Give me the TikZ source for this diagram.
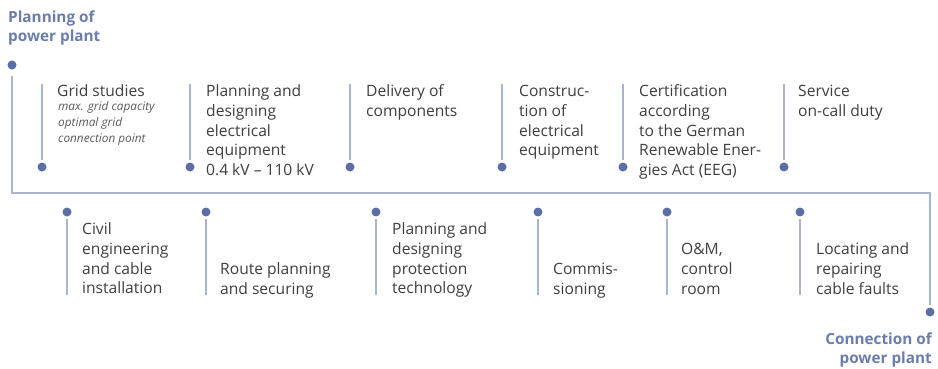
\documentclass[tikz,border=0pt]{standalone}
\usepackage{fontspec}
\setmainfont{Open Sans}
\definecolor{lineblue}{HTML}{A9B4CE}
\definecolor{dotblue}{HTML}{5B6FA6}
\definecolor{titleblue}{HTML}{6A7DAE}
\definecolor{textgray}{HTML}{3E3E3E}
\definecolor{subgray}{HTML}{5A5A5A}
\begin{document}
\begin{tikzpicture}[x=1pt,y=-1pt,
  conn/.style={draw=lineblue, line width=1.6pt},
  dot/.style={circle, fill=dotblue, inner sep=0pt, minimum size=9pt, outer sep=2.5pt},
  lbl/.style={anchor=north west, inner sep=0pt, align=left, text=textgray, font=\fontsize{15.6}{19.8}\selectfont},
  sublbl/.style={anchor=north west, inner sep=0pt, align=left, text=subgray, font=\fontsize{11.8}{16}\selectfont\itshape},
  ttl/.style={inner sep=0pt, text=titleblue, font=\fontsize{15.3}{19}\selectfont\bfseries}]
\useasboundingbox (0,0) rectangle (938,369);

% main timeline
\node[ttl, anchor=north west, align=left] (title) at (8,9.5) {\strut Planning of\\power plant};
\node[ttl, anchor=north east, align=right] (endtitle) at (932,331) {\strut Connection of\\power plant};
\node[dot] (start) at (12,65) {};
\node[dot] (end) at (930,312) {};
\coordinate (c1) at (12,193);
\coordinate (c2) at (930,193);
\draw[conn, shorten <=4pt] (start) -- (c1) -- (c2) -- (end);

% top items
\foreach \n/\x in {t1/42, t2/190, t3/350, t4/502, t5/623, t6/784}{
  \node[dot] (\n d) at (\x,167) {};
  \coordinate (\n a) at (\x,84);
  \draw[conn] (\n a) -- (\n d);
}
\node[lbl] (t1) at (57,82.5) {\strut Grid studies};
\node[sublbl] (t1s) at (58,99) {\strut max. grid capacity\\optimal grid\\connection point};
\node[lbl] (t2) at (206,82.5) {\strut Planning and\\designing\\electrical\\equipment\\0.4 kV – 110 kV};
\node[lbl] (t3) at (366,82.5) {\strut Delivery of\\components};
\node[lbl] (t4) at (519,82.5) {\strut Construc-\\tion of\\electrical\\equipment};
\node[lbl] (t5) at (639,82.5) {\strut Certification\\according\\to the German\\Renewable Ener-\\gies Act (EEG)};
\node[lbl] (t6) at (798,82.5) {\strut Service\\on-call duty};

% bottom items
\foreach \n/\x in {b1/67, b2/206, b3/376, b4/538, b5/667, b6/800}{
  \node[dot] (\n d) at (\x,212) {};
  \coordinate (\n a) at (\x,295);
  \draw[conn] (\n d) -- (\n a);
}
\node[lbl] (b1) at (82,220.5) {\strut Civil\\engineering\\and cable\\installation};
\node[lbl] (b2) at (220,260.5) {\strut Route planning\\and securing};
\node[lbl] (b3) at (392,220.5) {\strut Planning and\\designing\\protection\\technology};
\node[lbl] (b4) at (553,260.5) {\strut Commis-\\sioning};
\node[lbl] (b5) at (681,240.5) {\strut O\&M,\\control\\room};
\node[lbl] (b6) at (816,240.5) {\strut Locating and\\repairing\\cable faults};
\end{tikzpicture}
\end{document}
